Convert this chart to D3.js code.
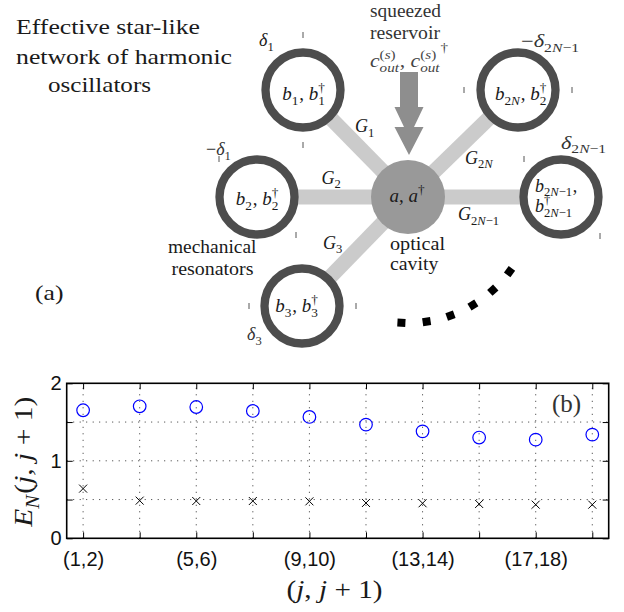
<!DOCTYPE html>
<html><head><meta charset="utf-8">
<script src="https://cdn.jsdelivr.net/npm/d3@7"></script>
<style>html,body{margin:0;padding:0;background:#fff;} svg{display:block;} text{white-space:pre;}</style>
</head><body><svg id="c" width="624" height="612"></svg>
<script>
// ---------- chart data (panel b) ----------
const pairs = ["(1,2)","(3,4)","(5,6)","(7,8)","(9,10)","(11,12)","(13,14)","(15,16)","(17,18)","(19,20)"];
const xTickLabels = ["(1,2)","","(5,6)","","(9,10)","","(13,14)","","(17,18)",""];
const circleValues = [1.652,1.703,1.694,1.643,1.566,1.467,1.380,1.300,1.273,1.338];
const crossValues  = [0.641,0.486,0.481,0.481,0.477,0.456,0.452,0.443,0.434,0.434];
const yTicks = [0,0.5,1,1.5,2];
const yTickLabels = ["0","","1","","2"];

const SERIF = '"Liberation Serif","DejaVu Serif",serif';
const SANS = '"Liberation Sans",Arial,sans-serif';
const svg = d3.select('#c');

// token: string | {t, it, dy, s} | {sup:[...], sub:[...]}
function mathLabel(parent, x, y, tokens, size, anchor, fill, target) {
  const g = parent.append('g').attr('fill', fill || '#1a1a1a').style('font-family', SERIF);
  function run(toks, cx, dy, sz) {
    toks.forEach(tk => {
      if (typeof tk === 'string' || tk.t !== undefined) {
        const str = typeof tk === 'string' ? tk : tk.t;
        const s = (typeof tk === 'object' && tk.s) ? tk.s : 1;
        const ddy = (typeof tk === 'object' && tk.dy) ? tk.dy : 0;
        const t = g.append('text').attr('x', cx).attr('y', dy + ddy)
          .style('font-size', (sz * s) + 'px').text(str);
        if (typeof tk === 'object' && tk.it) t.style('font-style', 'italic');
        cx += t.node().getComputedTextLength();
      } else {
        let w1 = 0, w2 = 0;
        if (tk.sup) w1 = run(tk.sup, cx, dy - 0.42 * sz, sz * 0.7) - cx;
        if (tk.sub) w2 = run(tk.sub, cx, dy + 0.26 * sz, sz * 0.7) - cx;
        cx += Math.max(w1, w2) + 0.04 * sz;
      }
    });
    return cx;
  }
  const w = run(tokens, 0, 0, size);
  const sx = target ? target / w : 1;
  const W = w * sx;
  const off = anchor === 'middle' ? -W / 2 : anchor === 'end' ? -W : 0;
  g.attr('transform', `translate(${x + off},${y}) scale(${sx},1)`);
  return g;
}
const I = t => ({t: t, it: true});

// ---------- panel (a): diagram ----------
const dia = svg.append('g');
const cav = {x: 408, y: 197, r: 37};
const rings = [
  {x: 303, y: 90,  ticks: [[0,-55],[0,55]]},
  {x: 257, y: 197, ticks: [[-38,-38],[39,38]]},
  {x: 302, y: 306, ticks: [[-53,0],[54,0]]},
  {x: 518, y: 90,  ticks: [[-54,0],[54,0]]},
  {x: 561, y: 197, ticks: [[-37,-38],[39,39]]}
];
dia.selectAll('line.spoke').data(rings).join('line').attr('class','spoke')
  .attr('x1', cav.x).attr('y1', cav.y).attr('x2', d => d.x).attr('y2', d => d.y)
  .attr('stroke', '#cbcbcb').attr('stroke-width', 15);
dia.selectAll('circle.ring').data(rings).join('circle').attr('class','ring')
  .attr('cx', d => d.x).attr('cy', d => d.y).attr('r', 37.5)
  .attr('fill', '#fff').attr('stroke', '#4d4d4d').attr('stroke-width', 8.3);
rings.forEach(r => r.ticks.forEach(t => {
  dia.append('line').attr('x1', r.x + t[0]).attr('x2', r.x + t[0])
    .attr('y1', r.y + t[1] - 3).attr('y2', r.y + t[1] + 3)
    .attr('stroke', '#555').attr('stroke-width', 1);
}));
dia.append('circle').attr('cx', cav.x).attr('cy', cav.y).attr('r', cav.r).attr('fill', '#999');
const ax = 409;
dia.append('polygon').attr('fill', '#8e8e8e').attr('points', [
  [ax-9,72],[ax+9,72],[ax+9,107],[ax+14.5,107],[ax+5,127],[ax+14.5,127],[ax,155],
  [ax-14.5,127],[ax-5,127],[ax-14.5,107],[ax-9,107]].map(p => p.join(',')).join(' '));
const arcAngles = [93, 81.5, 70.3, 59, 47.7, 36.3];
arcAngles.forEach(a => {
  const rad = a * Math.PI / 180, R = 126;
  const px = cav.x + R * Math.cos(rad), py = cav.y + R * Math.sin(rad);
  dia.append('rect').attr('x', -4).attr('y', -4).attr('width', 8).attr('height', 8)
    .attr('fill', '#000').attr('transform', `translate(${px},${py}) rotate(${a})`);
});

function plain(x, y, str, size, len, fill) {
  const t = dia.append('text').attr('x', x).attr('y', y).style('font-family', SERIF)
    .style('font-size', size + 'px').attr('fill', fill || '#1a1a1a').text(str);
  if (len) t.attr('textLength', len).attr('lengthAdjust', 'spacingAndGlyphs');
  return t;
}
plain(16, 34, 'Effective star-like', 21, 184);
plain(16, 64, 'network of harmonic', 21, 216);
plain(48, 91.5, 'oscillators', 21, 103);
plain(370, 17, 'squeezed', 18, 71, '#333');
plain(370, 38.5, 'reservoir', 18, 70, '#333');
mathLabel(dia, 370, 67, [I('c'), {sup:['(',I('s'),')'], sub:[I('out')]}, ', ', I('c'),
  {sup:['(',I('s'),')'], sub:[I('out')]}, {t:'†', s:0.7, dy:-15}], 19, 'start', '#444', 78);
plain(168, 253, 'mechanical', 18.5, 88.5);
plain(171.5, 275, 'resonators', 18.5, 82);
plain(390, 250, 'optical', 18.5, 55);
plain(390, 270, 'cavity', 18.5, 48.5);
plain(35, 300, '(a)', 21, 28.5);

mathLabel(dia, 304, 100, [I('b'), {sub:['1']}, ', ', I('b'), {sup:['†'], sub:['1']}], 19, 'middle');
mathLabel(dia, 521, 100, [I('b'), {sub:['2', I('N')]}, ', ', I('b'), {sup:['†'], sub:['2']}], 19, 'middle');
mathLabel(dia, 257.5, 205, [I('b'), {sub:['2']}, ', ', I('b'), {sup:['†'], sub:['2']}], 19, 'middle');
mathLabel(dia, 297, 312, [I('b'), {sub:['3']}, ', ', I('b'), {sup:['†'], sub:['3']}], 19, 'middle');
mathLabel(dia, 535, 191.5, [I('b'), {sub:['2', I('N'), '−1']}, ','], 18, 'start');
mathLabel(dia, 535, 212, [I('b'), {sup:['†'], sub:['2', I('N'), '−1']}], 18, 'start');
mathLabel(dia, 389.5, 202, [I('a'), ', ', I('a'), {sup:['†']}], 19, 'start');

mathLabel(dia, 355, 132, [I('G'), {sub:['1']}], 18, 'start');
mathLabel(dia, 321.5, 183.5, [I('G'), {sub:['2']}], 18, 'start');
mathLabel(dia, 323, 248.5, [I('G'), {sub:['3']}], 18, 'start');
mathLabel(dia, 465, 163.5, [I('G'), {sub:['2', I('N')]}], 18, 'start');
mathLabel(dia, 458, 220, [I('G'), {sub:['2', I('N'), '−1']}], 18, 'start');

mathLabel(dia, 259, 46, [I('δ'), {sub:['1']}], 18, 'start');
mathLabel(dia, 206, 155, ['−', I('δ'), {sub:['1']}], 18, 'start', '#333');
mathLabel(dia, 247, 340, [I('δ'), {sub:['3']}], 18, 'start', '#333');
mathLabel(dia, 521, 47, ['−', I('δ'), {sub:['2', I('N'), '−1']}], 18, 'start', '#333', 59);
mathLabel(dia, 561, 148.5, [I('δ'), {sub:['2', I('N'), '−1']}], 18, 'start', '#333', 46);

// ---------- panel (b): chart ----------
const L = 66.7, R = 608.7, T = 383.3, B = 538.3;
const x = d3.scalePoint().domain(pairs).range([L, R]).padding(0.29);
const y = d3.scaleLinear().domain([0, 2]).range([B, T]);
const ch = svg.append('g');

ch.selectAll('line.vg').data(pairs).join('line').attr('class','vg')
  .attr('x1', d => x(d)).attr('x2', d => x(d)).attr('y1', y(0)).attr('y2', y(2))
  .attr('stroke', '#333').attr('stroke-width', 1).attr('stroke-dasharray', '1,5.5');
ch.selectAll('line.hg').data(yTicks.filter(v => v > 0 && v < 2)).join('line').attr('class','hg')
  .attr('x1', L).attr('x2', R).attr('y1', d => y(d)).attr('y2', d => y(d))
  .attr('stroke', '#333').attr('stroke-width', 1).attr('stroke-dasharray', '1,5.5');

function styleAxis(g) {
  g.select('.domain').remove();
  g.selectAll('.tick line').attr('stroke', '#000').attr('stroke-width', 1);
  g.selectAll('.tick text').attr('fill', '#111').style('font-family', SANS).style('font-size', '20px');
}
ch.append('g').attr('transform', `translate(0,${B})`)
  .call(d3.axisBottom(x).tickSize(-6).tickPadding(14).tickFormat((d, i) => xTickLabels[i])).call(styleAxis);
ch.append('g').attr('transform', `translate(0,${T})`)
  .call(d3.axisTop(x).tickSize(-6).tickFormat('')).call(styleAxis);
ch.append('g').attr('transform', `translate(${L},0)`)
  .call(d3.axisLeft(y).tickValues(yTicks).tickSize(-6).tickPadding(5).tickFormat((d, i) => yTickLabels[i])).call(styleAxis);
ch.append('g').attr('transform', `translate(${R},0)`)
  .call(d3.axisRight(y).tickValues(yTicks).tickSize(-6).tickFormat('')).call(styleAxis);

ch.append('rect').attr('x', L).attr('y', T).attr('width', R - L).attr('height', B - T)
  .attr('fill', 'none').attr('stroke', '#000').attr('stroke-width', 1.6);

ch.selectAll('circle.m').data(circleValues).join('circle').attr('class','m')
  .attr('cx', (d, i) => x(pairs[i])).attr('cy', d => y(d)).attr('r', 6.3)
  .attr('fill', 'none').attr('stroke', '#0000ff').attr('stroke-width', 1.2);
ch.selectAll('path.x').data(crossValues).join('path').attr('class','x')
  .attr('transform', (d, i) => `translate(${x(pairs[i])},${y(d)})`)
  .attr('d', 'M-4,-4L4,4M-4,4L4,-4').attr('stroke', '#000').attr('stroke-width', 1).attr('fill', 'none');

ch.append('text').attr('x', 552).attr('y', 412).style('font-family', SERIF).style('font-size', '25px')
  .attr('fill', '#333').text('(b)');
mathLabel(ch, 334.5, 598, ['(', I('j'), ', ', I('j'), ' + 1)'], 26, 'middle', '#1a1a1a', 96);
const yl = ch.append('g').attr('transform', 'translate(32,461.7) rotate(-90)');
mathLabel(yl, 0, 0, [I('E'), {sub:[I('N')]}, '(', I('j'), ', ', I('j'), ' + 1)'], 26, 'middle', '#1a1a1a', 130);
</script></body></html>
